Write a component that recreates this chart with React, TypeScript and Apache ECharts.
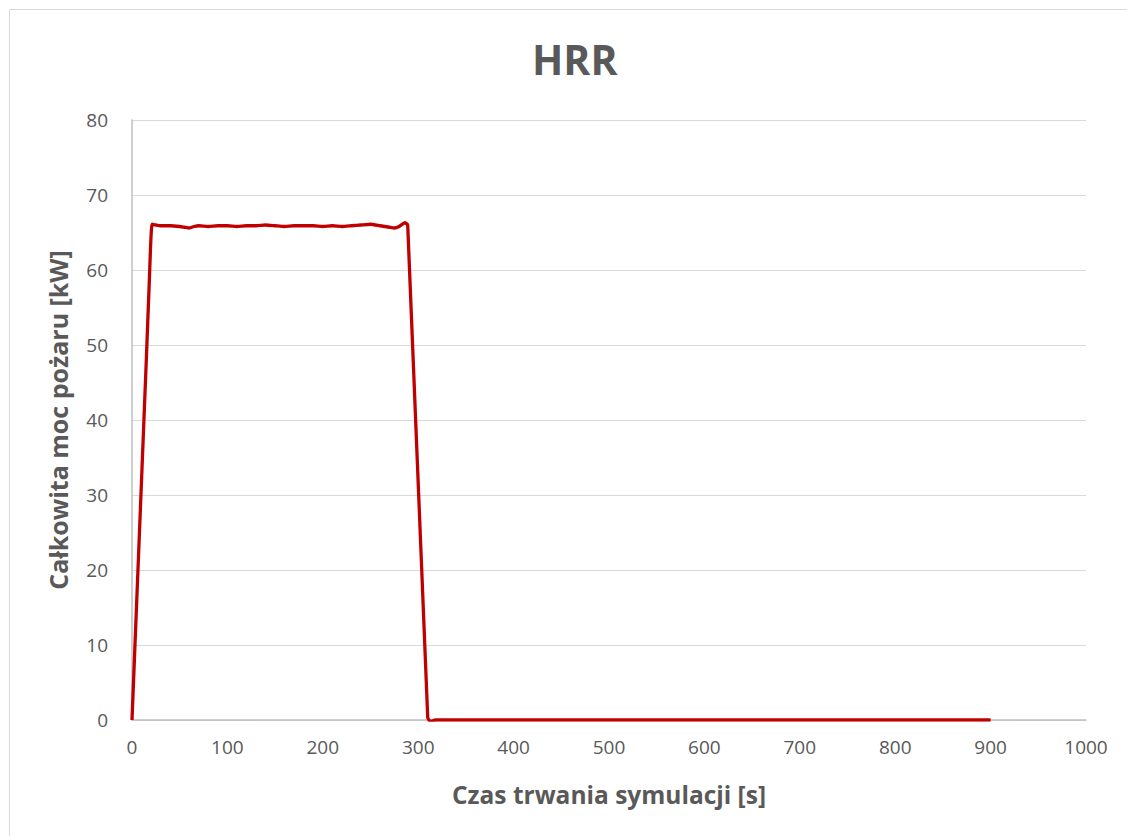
import React, { useEffect, useRef } from "react";
import * as echarts from "echarts";

const timeSeconds = [0, 5, 10, 15, 18, 21, 25, 30, 40, 50, 55, 60, 65, 70, 80, 90, 100, 110, 120, 130, 140, 150, 160, 170, 180, 190, 200, 210, 220, 230, 240, 250, 260, 270, 275, 280, 286, 289, 310, 313, 318, 325, 350, 400, 500, 600, 700, 800, 900];
const hrrKW = [0, 16, 32, 48, 58, 66.1, 66.0, 65.9, 65.9, 65.8, 65.7, 65.6, 65.8, 65.9, 65.8, 65.9, 65.9, 65.8, 65.9, 65.9, 66.0, 65.9, 65.8, 65.9, 65.9, 65.9, 65.8, 65.9, 65.8, 65.9, 66.0, 66.1, 65.9, 65.7, 65.6, 65.8, 66.3, 66.0, 0.3, -0.2, 0, 0, 0, 0, 0, 0, 0, 0, 0];

const xTicks = [0, 100, 200, 300, 400, 500, 600, 700, 800, 900, 1000];
const yTicks = [0, 10, 20, 30, 40, 50, 60, 70, 80];

const chartTitle = "HRR";
const xTitle = "Czas trwania symulacji [s]";
const yTitle = "Całkowita moc pożaru [kW]";

export default function App() {
  const ref = useRef<HTMLDivElement>(null);
  useEffect(() => {
    if (!ref.current) return;
    const chart = echarts.init(ref.current, null, { renderer: "svg" });
    const font = "'Open Sans', 'Liberation Sans', sans-serif";
    chart.setOption({
      animation: false,
      backgroundColor: "#ffffff",
      textStyle: { fontFamily: font },
      title: {
        text: chartTitle,
        left: 527,
        top: 33,
        textStyle: { fontSize: 41, fontWeight: "bold", color: "#595959", fontFamily: font },
      },
      graphic: [
        {
          type: "rect",
          shape: { x: 9.5, y: 9.5, width: 1140, height: 850 },
          style: { fill: "none", stroke: "#d9d9d9", lineWidth: 1 },
          silent: true,
        },
      ],
      grid: { left: 132, right: 41, top: 120, bottom: 116, containLabel: false },
      xAxis: {
        type: "value",
        min: xTicks[0],
        max: xTicks[xTicks.length - 1],
        interval: 100,
        name: xTitle,
        nameLocation: "middle",
        nameGap: 62,
        nameTextStyle: { fontSize: 24.5, fontWeight: "bold", color: "#595959", fontFamily: font },
        axisLine: { show: true, lineStyle: { color: "#bfbfbf", width: 1.5 } },
        axisTick: { show: false },
        splitLine: { show: false },
        axisLabel: { fontSize: 19, color: "#595959", margin: 17, fontFamily: font, formatter: (v: number) => String(v) },
      },
      yAxis: {
        type: "value",
        min: yTicks[0],
        max: yTicks[yTicks.length - 1],
        interval: 10,
        name: yTitle,
        nameLocation: "middle",
        nameGap: 62,
        nameTextStyle: { fontSize: 25, fontWeight: "bold", color: "#595959", fontFamily: font },
        axisLine: { show: true, lineStyle: { color: "#bfbfbf", width: 1.5 } },
        axisTick: { show: false },
        splitLine: { show: true, lineStyle: { color: "#d9d9d9", width: 1.2 } },
        axisLabel: { fontSize: 19, color: "#595959", margin: 24, fontFamily: font },
      },
      series: [
        {
          type: "line",
          data: timeSeconds.map((t, i) => [t, hrrKW[i]]),
          showSymbol: false,
          smooth: 0.15,
          lineStyle: { color: "#c00000", width: 3.3 },
          itemStyle: { color: "#c00000" },
        },
      ],
    });
    return () => chart.dispose();
  }, []);
  return <div ref={ref} style={{ width: 1127, height: 836, position: "absolute", left: 0, top: 0 }} />;
}
